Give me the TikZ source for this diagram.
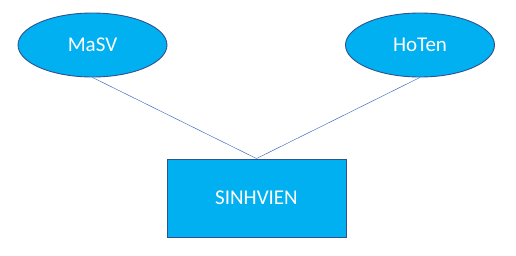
\documentclass[tikz,border=0pt]{standalone}
\usepackage{fontspec}
\setmainfont{Carlito}
\usetikzlibrary{shapes.geometric}
\definecolor{entfill}{HTML}{00B0F0}
\definecolor{entdraw}{HTML}{2F528F}
\definecolor{linkcol}{HTML}{4472C4}
\tikzset{
  attr/.style={ellipse, draw=entdraw, fill=entfill, line width=0.9pt,
    minimum width=149pt, minimum height=64pt, inner sep=0pt,
    text=white, font=\fontsize{21}{24}\selectfont},
  entity/.style={rectangle, draw=entdraw, fill=entfill, line width=0.9pt,
    minimum width=179pt, minimum height=78pt, inner sep=0pt,
    text=white, font=\fontsize{21}{24}\selectfont},
  link/.style={draw=linkcol, line width=0.5pt}
}
\begin{document}
\begin{tikzpicture}[x=1pt,y=-1pt]
  \useasboundingbox (0,0) rectangle (516,255);
  \node[attr] (masv) at (92.5,45) {MaSV};
  \node[attr] (hoten) at (420,45) {HoTen};
  \node[entity] (sv) at (256.5,198) {SINHVIEN};
  \draw[link] (masv.south) -- (sv.north);
  \draw[link] (hoten.south) -- (sv.north);
\end{tikzpicture}
\end{document}
